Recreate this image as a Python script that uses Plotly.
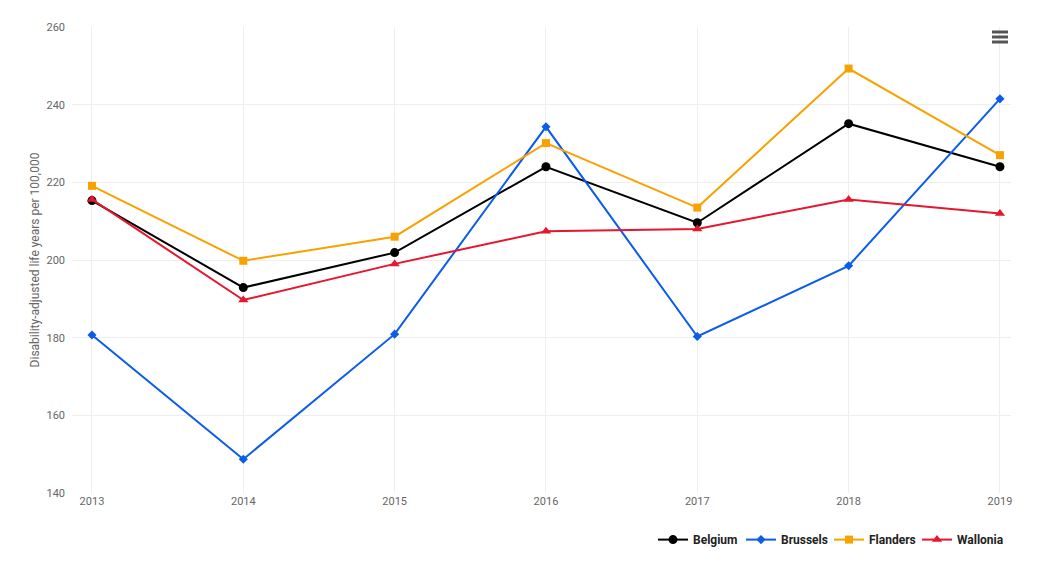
import plotly.graph_objects as go

years = [2013, 2014, 2015, 2016, 2017, 2018, 2019]
belgium = [215.3, 192.9, 201.9, 224.0, 209.6, 235.1, 224.0]
brussels = [180.7, 148.7, 180.9, 234.3, 180.3, 198.5, 241.5]
flanders = [219.1, 199.8, 206.0, 230.1, 213.5, 249.3, 227.0]
wallonia = [215.6, 189.7, 199.0, 207.4, 208.0, 215.6, 212.0]

series = [
    ("Belgium", belgium, "#000000", "circle", 9),
    ("Brussels", brussels, "#0b5ce8", "diamond", 7),
    ("Flanders", flanders, "#f7a200", "square", 8),
    ("Wallonia", wallonia, "#e5162d", "triangle-up", 9),
]

fig = go.Figure()
for name, vals, color, sym, size in series:
    fig.add_trace(go.Scatter(
        x=years, y=vals, name=name, mode="lines+markers",
        line=dict(color=color, width=2),
        marker=dict(symbol=sym, size=size, color=color),
    ))

font = "Roboto, Arial, sans-serif"
fig.update_layout(
    width=1045, height=571,
    margin=dict(l=72, r=34, t=27, b=78),
    paper_bgcolor="white", plot_bgcolor="white",
    font=dict(family=font, size=11, color="#666666"),
    showlegend=True,
    legend=dict(
        orientation="h", x=0.9936, xanchor="right", y=-0.1, yanchor="middle",
        font=dict(family=font, size=12, color="#222222", weight="bold"),
        itemwidth=30, traceorder="normal", entrywidth=43,
    ),
    xaxis=dict(
        range=[2012.868, 2019.073], tickmode="array", tickvals=years,
        ticktext=[str(y) for y in years],
        showgrid=True, gridcolor="#eeeeee", gridwidth=1, zeroline=False,
        showline=False, ticks="", tickfont=dict(size=11, color="#666666"),
    ),
    yaxis=dict(
        range=[140, 260], tickmode="array", tickvals=[140, 160, 180, 200, 220, 240, 260],
        showgrid=True, gridcolor="#eeeeee", gridwidth=1, zeroline=False,
        showline=False, ticks="", ticklabelstandoff=6,
        tickfont=dict(size=11, color="#666666"),
        title=dict(text="Disability-adjusted life years per 100,000",
                   font=dict(size=12, color="#666666"), standoff=4),
    ),
)

# hamburger menu icon
for py in [32, 37, 42]:
    yp = (493 - py) / 466
    fig.add_shape(type="line", xref="paper", yref="paper",
                  x0=(992 - 72) / 939, x1=(1008 - 72) / 939, y0=yp, y1=yp,
                  line=dict(color="#555555", width=3))

fig.write_html("out.html")
